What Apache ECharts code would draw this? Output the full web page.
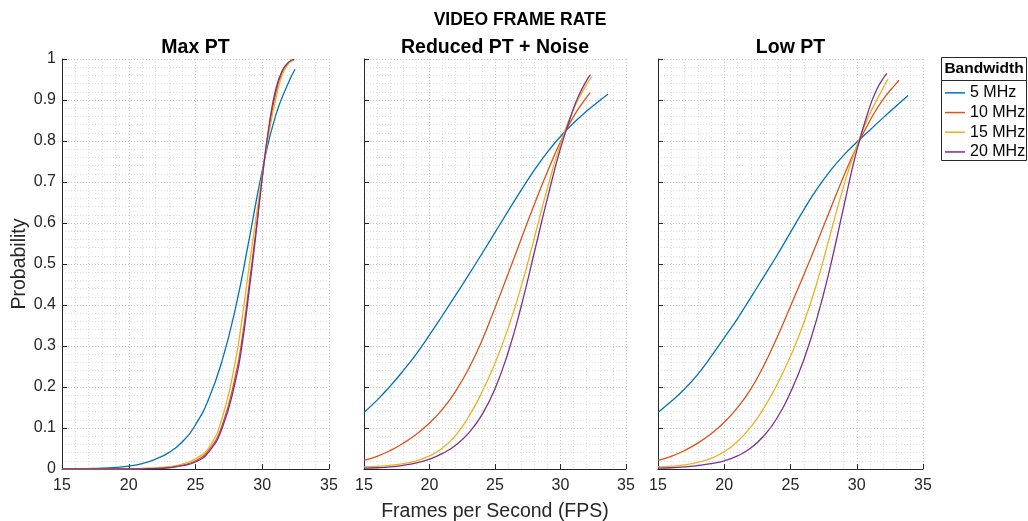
<!DOCTYPE html>
<html>
<head>
<meta charset="utf-8">
<script src="https://cdn.jsdelivr.net/npm/echarts@6/dist/echarts.min.js"></script>
<style>html,body{margin:0;padding:0;background:#fff}#c{width:1028px;height:521px}</style>
</head>
<body>
<div id="c"></div>
<script>
// ---- data ----
const mainTitle = 'VIDEO FRAME RATE';
const panelTitles = ['Max PT', 'Reduced PT + Noise', 'Low PT'];
const seriesNames = ['5 MHz', '10 MHz', '15 MHz', '20 MHz'];
const xTicks = [15, 20, 25, 30, 35];
const yTicks = [0, 0.1, 0.2, 0.3, 0.4, 0.5, 0.6, 0.7, 0.8, 0.9, 1];

// Panel 1: Max PT  [fps, probability]
const maxPT_5 = [[15,0],[16,0.0005],[17,0.001],[18,0.002],[19,0.004],[20,0.007],[21,0.013],[22,0.024],[23,0.04],[24,0.066],[25,0.108],[26,0.172],[27,0.265],[28,0.393],[29,0.557],[30,0.728],[31,0.862],[32,0.945],[32.46,0.975]];
const maxPT_10 = [[15,0],[20,0.0003],[22,0.002],[23,0.004],[24,0.009],[25,0.02],[26,0.046],[27,0.107],[28,0.228],[28.5,0.32],[29,0.445],[29.5,0.575],[30,0.712],[30.5,0.83],[31,0.915],[31.5,0.968],[32,0.992],[32.4,0.999]];
const maxPT_15 = [[15,0],[20,0.0005],[21,0.001],[22,0.003],[23,0.006],[24,0.012],[25,0.025],[26,0.052],[27,0.125],[28,0.265],[28.5,0.37],[29,0.49],[29.5,0.605],[30,0.718],[30.5,0.82],[31,0.9],[31.5,0.962],[32,0.99],[32.4,0.998]];
const maxPT_20 = [[15,0],[20,0.0002],[21,0.0005],[22,0.001],[23,0.003],[24,0.008],[25,0.017],[26,0.042],[27,0.1],[28,0.215],[28.5,0.305],[29,0.43],[29.5,0.565],[30,0.71],[30.5,0.835],[31,0.925],[31.5,0.972],[32,0.993],[32.4,0.999]];

// Panel 2: Reduced PT + Noise
const redPT_5 = [[15,0.138],[16,0.168],[17,0.202],[18,0.24],[19,0.281],[20,0.327],[21,0.375],[22,0.424],[23,0.474],[24,0.525],[25,0.577],[26,0.629],[27,0.68],[28,0.729],[29,0.773],[30,0.811],[31,0.844],[32,0.873],[33,0.899],[33.62,0.914]];
const redPT_10 = [[15,0.021],[16,0.031],[17,0.045],[18,0.063],[19,0.085],[20,0.112],[21,0.146],[22,0.19],[23,0.245],[24,0.313],[25,0.393],[26,0.476],[27,0.561],[28,0.645],[29,0.725],[30,0.798],[31,0.86],[32,0.907],[32.28,0.918]];
const redPT_15 = [[15,0.005],[16,0.0065],[17,0.009],[18,0.013],[19,0.02],[20,0.032],[21,0.051],[22,0.082],[23,0.128],[24,0.187],[25,0.258],[26,0.343],[27,0.445],[28,0.563],[29,0.685],[30,0.793],[31,0.878],[32,0.938],[32.4,0.957]];
const redPT_20 = [[15,0.002],[16,0.003],[17,0.005],[18,0.009],[19,0.015],[20,0.024],[21,0.038],[22,0.058],[23,0.088],[24,0.132],[25,0.196],[26,0.284],[27,0.397],[28,0.528],[29,0.66],[30,0.782],[31,0.88],[31.5,0.918],[32,0.948],[32.28,0.962]];

// Panel 3: Low PT
const lowPT_5 = [[15,0.138],[16,0.165],[17,0.195],[18,0.231],[19,0.274],[20,0.32],[21,0.367],[22,0.418],[23,0.47],[24,0.522],[25,0.577],[26,0.632],[27,0.683],[28,0.727],[29,0.765],[30,0.797],[31,0.827],[32,0.857],[33,0.886],[33.87,0.911]];
const lowPT_10 = [[15,0.021],[16,0.031],[17,0.045],[18,0.063],[19,0.086],[20,0.114],[21,0.15],[22,0.195],[23,0.253],[24,0.322],[25,0.397],[26,0.473],[27,0.552],[28,0.633],[29,0.713],[30,0.786],[31,0.85],[32,0.902],[33,0.941],[33.2,0.948]];
const lowPT_15 = [[15,0.005],[16,0.007],[17,0.01],[18,0.016],[19,0.026],[20,0.042],[21,0.067],[22,0.102],[23,0.149],[24,0.207],[25,0.275],[26,0.356],[27,0.455],[28,0.572],[29,0.688],[30,0.788],[31,0.867],[32,0.93],[32.36,0.951]];
const lowPT_20 = [[15,0.002],[16,0.003],[17,0.005],[18,0.008],[19,0.013],[20,0.02],[21,0.032],[22,0.051],[23,0.081],[24,0.125],[25,0.187],[26,0.266],[27,0.368],[28,0.493],[29,0.637],[30,0.777],[31,0.885],[31.5,0.925],[32,0.953],[32.28,0.965]];

const panels = [
  [maxPT_5, maxPT_10, maxPT_15, maxPT_20],
  [redPT_5, redPT_10, redPT_15, redPT_20],
  [lowPT_5, lowPT_10, lowPT_15, lowPT_20]
];

// ---- styling / layout ----
const colors = ['#0072BD', '#D95319', '#EDB120', '#7E2F8E'];
const axisColor = '#262626';
const FONT = '"Liberation Sans", Arial, Helvetica, sans-serif';
const grids = [
  {left: 62, top: 59, width: 267, height: 410, outerBoundsMode: 'none', containLabel: false},
  {left: 364, top: 59, width: 262, height: 410, outerBoundsMode: 'none', containLabel: false},
  {left: 658, top: 59, width: 265, height: 410, outerBoundsMode: 'none', containLabel: false}
];

const xAxes = grids.map((g, i) => ({
  type: 'value', gridIndex: i, min: xTicks[0], max: xTicks[xTicks.length - 1], interval: 5,
  axisLine: {show: true, onZero: false, lineStyle: {color: axisColor, width: 1}},
  axisTick: {show: true, inside: true, length: 5, lineStyle: {color: axisColor}},
  axisLabel: {color: axisColor, fontSize: 16, fontFamily: FONT, margin: 9},
  splitLine: {show: true, lineStyle: {color: '#c8c8c8', type: [1, 2], width: 1}},
  minorTick: {show: false, splitNumber: 5},
  minorSplitLine: {show: true, lineStyle: {color: '#dedede', type: [1, 2], width: 1}},
  name: i === 1 ? 'Frames per Second (FPS)' : '',
  nameLocation: 'middle', nameGap: 33,
  nameTextStyle: {color: axisColor, fontSize: 19.5, fontFamily: FONT}
}));

const yAxes = grids.map((g, i) => ({
  type: 'value', gridIndex: i, min: 0, max: 1, interval: 0.1,
  axisLine: {show: true, onZero: false, lineStyle: {color: axisColor, width: 1}},
  axisTick: {show: true, inside: true, length: 5, lineStyle: {color: axisColor}},
  axisLabel: {show: i === 0, color: axisColor, fontSize: 16, fontFamily: FONT, margin: 6,
    formatter: v => { const t = yTicks.find(k => Math.abs(k - v) < 1e-9); return t === undefined ? '' : String(t); }},
  splitLine: {show: true, lineStyle: {color: '#c8c8c8', type: [1, 2], width: 1}},
  minorTick: {show: false, splitNumber: 5},
  minorSplitLine: {show: true, lineStyle: {color: '#dedede', type: [1, 2], width: 1}},
  name: i === 0 ? 'Probability' : '',
  nameLocation: 'middle', nameGap: 30, nameRotate: 90,
  nameTextStyle: {color: axisColor, fontSize: 19.5, fontFamily: FONT}
}));

const series = [];
panels.forEach((p, pi) => {
  p.forEach((data, si) => {
    series.push({
      type: 'line', name: seriesNames[si], xAxisIndex: pi, yAxisIndex: pi,
      data: data, showSymbol: false, symbol: 'none', smooth: 0.5,
      lineStyle: {color: colors[si], width: 1.3}, itemStyle: {color: colors[si]},
      animation: false, z: 3 + si
    });
  });
});

const titles = [{
  text: mainTitle, left: 515, top: 6, textAlign: 'center',
  textStyle: {fontSize: 17.5, fontWeight: 'bold', color: '#000', fontFamily: FONT}
}].concat(panelTitles.map((t, i) => ({
  text: t, left: grids[i].left + grids[i].width / 2 - 5, top: 33, textAlign: 'center',
  textStyle: {fontSize: 19.5, fontWeight: 'bold', color: '#000', fontFamily: FONT}
})));

const chart = echarts.init(document.getElementById('c'), null, {renderer: 'canvas'});
chart.setOption({
  backgroundColor: '#fff',
  animation: false,
  title: titles,
  grid: grids,
  xAxis: xAxes,
  yAxis: yAxes,
  series: series,
  legend: {
    data: seriesNames, orient: 'vertical', left: 945, top: 83,
    itemWidth: 20, itemHeight: 1.5, itemGap: 0,
    icon: 'rect',
    textStyle: {color: '#000', fontSize: 16, fontFamily: FONT, lineHeight: 19.7},
    selectedMode: false, padding: 0
  },
  graphic: [
    {type: 'rect', shape: {x: 941.5, y: 57.5, width: 85, height: 103},
      style: {fill: 'rgba(255,255,255,0)', stroke: axisColor, lineWidth: 1}, z: 100},
    {type: 'line', shape: {x1: 941.5, y1: 80.5, x2: 1026.5, y2: 80.5},
      style: {stroke: axisColor, lineWidth: 1}, z: 100},
    {type: 'text', x: 984, y: 69, z: 100,
      style: {text: 'Bandwidth', fill: '#000', font: 'bold 15.5px ' + FONT, textAlign: 'center', textVerticalAlign: 'middle'}}
  ]
});
</script>
</body>
</html>
